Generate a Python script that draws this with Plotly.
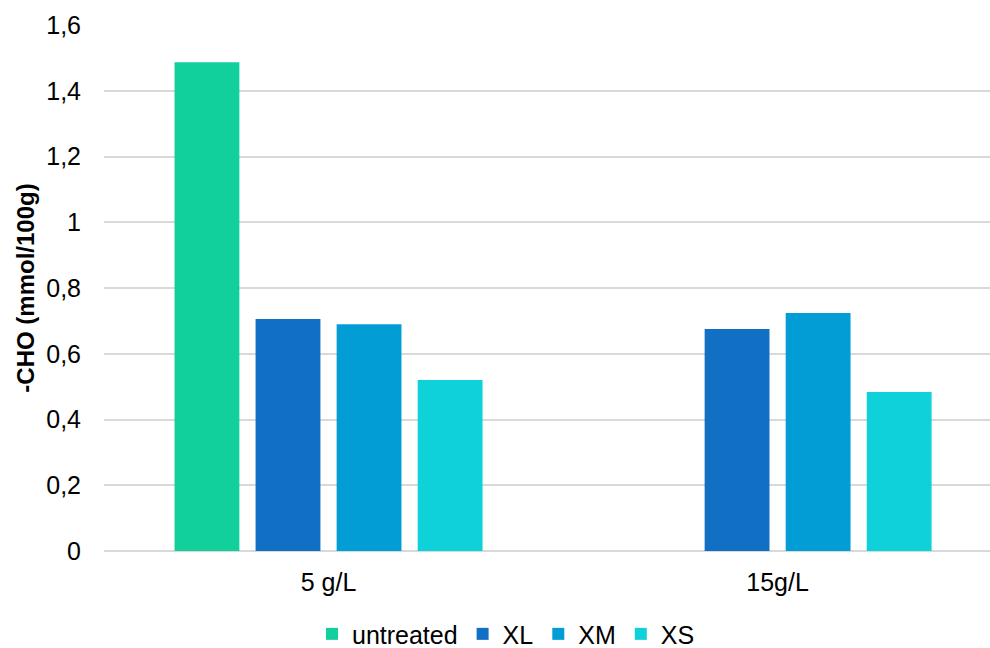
import plotly.graph_objects as go

categories = ["5 g/L", "15g/L"]
series_names = ["untreated", "XL", "XM", "XS"]
untreated = [1.487, None]
xl = [0.706, 0.675]
xm = [0.690, 0.724]
xs = [0.520, 0.484]
colors = ["#12D09B", "#1170C4", "#039DD6", "#0ED1D9"]
y_ticks = [0, 0.2, 0.4, 0.6, 0.8, 1.0, 1.2, 1.4, 1.6]

fig = go.Figure()
for name, vals, col in zip(series_names, [untreated, xl, xm, xs], colors):
    fig.add_trace(go.Bar(x=categories, y=vals, name=name, marker_color=col,
                         marker_line_width=0))

font = "Liberation Sans, Arial, sans-serif"
fig.update_layout(
    width=990, height=648,
    paper_bgcolor="white", plot_bgcolor="white",
    margin=dict(l=104, r=0, t=25, b=97, autoexpand=False),
    barmode="group", bargap=0.278, bargroupgap=0.2,
    separators=", ",
    font=dict(family=font, size=25, color="#000000"),
    showlegend=True,
    legend=dict(orientation="h", x=0.4537, xref="paper", xanchor="center",
                y=-0.158, yanchor="middle", font=dict(size=25),
                itemwidth=30, tracegroupgap=0),
    xaxis=dict(range=[-0.5, 1.473], showgrid=False, showline=False,
               ticks="", tickfont=dict(size=25), ticklabelstandoff=14,
               automargin=False),
    yaxis=dict(range=[0, 1.6], tickvals=y_ticks, showgrid=True,
               gridcolor="#D9D9D9", gridwidth=1.5, zeroline=True,
               zerolinecolor="#D9D9D9", zerolinewidth=1.5,
               tickfont=dict(size=25), ticklabelstandoff=22,
               automargin=False,
               title=dict(text="<b>-CHO (mmol/100g)</b>", font=dict(size=24),
                          standoff=4)),
)

fig.write_html(
    "out.html",
    config={"displayModeBar": False},
    post_script="document.body.style.margin='0';document.body.style.overflow='hidden';",
)
